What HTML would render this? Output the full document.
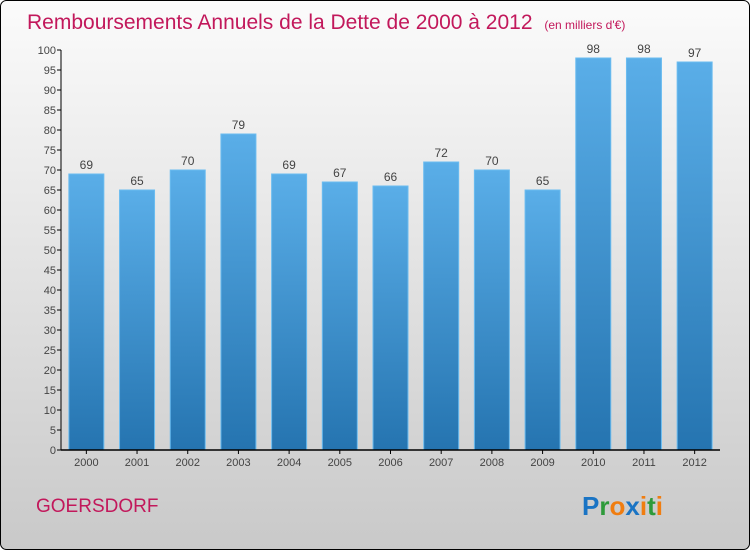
<!DOCTYPE html>
<html><head><meta charset="utf-8"><style>
body{margin:0;width:750px;height:550px;overflow:hidden;font-family:"Liberation Sans",sans-serif}
</style></head><body>
<svg width="750" height="550" xmlns="http://www.w3.org/2000/svg">
<defs>
<linearGradient id="bg" x1="0" y1="0" x2="0" y2="1"><stop offset="0" stop-color="#fbfbfb"/><stop offset="1" stop-color="#c9c9c9"/></linearGradient>
<linearGradient id="bar" x1="0" y1="0" x2="0" y2="1"><stop offset="0" stop-color="#5aaee8"/><stop offset="1" stop-color="#2574b0"/></linearGradient>
</defs>
<rect x="0.5" y="0.5" width="749" height="549" rx="6" fill="url(#bg)" stroke="#000"/>
<text x="27" y="29" font-size="21" fill="#c2185b">Remboursements Annuels de la Dette de 2000 à 2012 <tspan font-size="12" dx="6">(en milliers d'€)</tspan></text>
<g id="yax"></g><g id="bars"></g><g id="xax"></g>
<text x="36" y="512" font-size="19" fill="#c2185b">GOERSDORF</text>
<text x="582" y="515" font-size="26" font-weight="bold"><tspan fill="#1a74c4">P</tspan><tspan fill="#2e9a3a">r</tspan><tspan fill="#f07d10">o</tspan><tspan fill="#1a74c4">x</tspan><tspan fill="#f07d10">i</tspan><tspan fill="#2e9a3a">t</tspan><tspan fill="#f07d10">i</tspan></text>
</svg>
<script>
const years=["2000","2001","2002","2003","2004","2005","2006","2007","2008","2009","2010","2011","2012"];
const values=[69,65,70,79,69,67,66,72,70,65,98,98,97];
const yTicks=[0,5,10,15,20,25,30,35,40,45,50,55,60,65,70,75,80,85,90,95,100];
const NS="http://www.w3.org/2000/svg";
const x0=61,x1=720,y0=450,y1=50,ymax=100;
const y=v=>y0-(v/ymax)*(y0-y1);
const band=(x1-x0)/years.length;
const xc=i=>x0+band*(i+0.5);
function mk(t,a,p){const e=document.createElementNS(NS,t);for(const k in a)e.setAttribute(k,a[k]);p.appendChild(e);return e;}
const ya=document.getElementById('yax'),ba=document.getElementById('bars'),xa=document.getElementById('xax');
yTicks.forEach(v=>{
 const l=mk('line',{x1:x0-4,x2:x0,y1:y(v),y2:y(v),stroke:'#000'},ya);
 
 
 const t=mk('text',{x:x0-5,y:y(v)+4,'text-anchor':'end','font-size':11,fill:'#444'},ya);
 t.textContent=v;
 
 
});
values.forEach((v,i)=>{
 const r=mk('rect',{x:xc(i)-17.5,y:y(v),width:35,height:y0-y(v),fill:'url(#bar)',stroke:'#6bbcf0','stroke-width':1},ba);
 
 
 const t=mk('text',{x:xc(i),y:y(v)-5,'text-anchor':'middle','font-size':12,fill:'#444'},ba);
 t.textContent=v;
 
 
 const xt=mk('text',{x:xc(i),y:466,'text-anchor':'middle','font-size':11,fill:'#444'},xa);
 xt.textContent=years[i];
 
 
 const tk=mk('line',{x1:xc(i),x2:xc(i),y1:y0,y2:y0+4,stroke:'#000'},xa);
 
 
});
const ax=mk('line',{x1:x0,x2:x0,y1:y1,y2:y0,stroke:'#000'},ya);


const xx=mk('line',{x1:x0,x2:x1,y1:y0,y2:y0,stroke:'#000','stroke-width':1.5},xa);


</script>
</body></html>
